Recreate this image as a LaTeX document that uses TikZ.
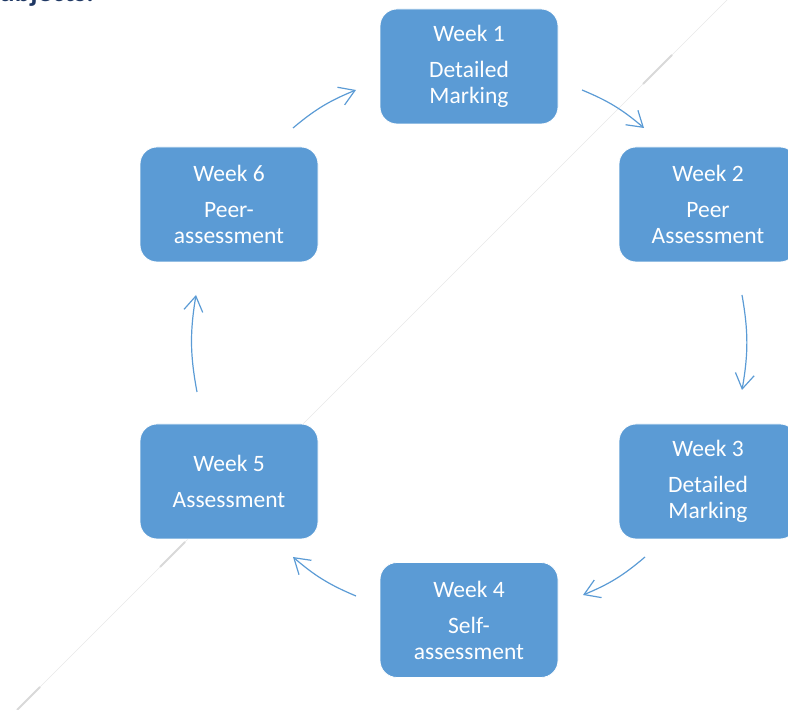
\documentclass[tikz,border=0pt]{standalone}
\usepackage{fontspec}
\setmainfont{Carlito}
\usetikzlibrary{arrows.meta}
\definecolor{boxblue}{HTML}{5B9BD5}
\definecolor{headblue}{HTML}{1F3864}
\begin{document}
\begin{tikzpicture}[x=1pt,y=1pt,
  weekbox/.style={fill=boxblue, draw=white, line width=0.8pt, rounded corners=17pt,
    minimum width=178pt, minimum height=115pt, text=white, align=center,
    font=\fontsize{23.5}{26}\selectfont, inner sep=0pt},
  cyc/.style={draw=boxblue, line width=1.2pt,
    -{Straight Barb[length=15pt,width=19pt,line width=1.2pt]}},
  decothin/.style={draw=black!9, line width=0.7pt},
  decothick/.style={draw=black!15, line width=2pt}]
\useasboundingbox (0,0) rectangle (788,710);
\clip (0,0) rectangle (788,710);

% faint diagonal line
\coordinate (d1) at (17,0);
\coordinate (d2) at (727,710);
\draw[decothin] (d1) -- (d2);
\coordinate (t1a) at (643,626);
\coordinate (t1b) at (672,655);
\coordinate (t2a) at (160,143);
\coordinate (t2b) at (185,168);
\coordinate (t3a) at (17,0);
\coordinate (t3b) at (40,23);
\draw[decothick] (t1a) -- (t1b);
\draw[decothick] (t2a) -- (t2b);
\draw[decothick] (t3a) -- (t3b);

% heading (cut off at top)
\node[anchor=base west, inner sep=0pt, text=headblue,
  font=\fontsize{29}{34}\selectfont\bfseries] (head) at (-1,708.5) {ubjects:};

% boxes
\node[weekbox] (w1) at (469,643.5) {Week 1\\[10pt]Detailed\\Marking};
\node[weekbox] (w2) at (708,505.5) {Week 2\\[10pt]Peer\\Assessment};
\node[weekbox] (w3) at (708,228.5) {Week 3\\[10pt]Detailed\\Marking};
\node[weekbox] (w4) at (469,90) {Week 4\\[10pt]Self-\\assessment};
\node[weekbox] (w5) at (229,228.5) {Week 5\\[10pt]Assessment};
\node[weekbox] (w6) at (229,505.5) {Week 6\\[10pt]Peer-\\assessment};

% arrow end points
\coordinate (a12s) at (582,620);
\coordinate (a12e) at (644,582);
\coordinate (a23s) at (742,415);
\coordinate (a23e) at (742,320);
\coordinate (a34s) at (645,153);
\coordinate (a34e) at (583,115);
\coordinate (a45s) at (356,114);
\coordinate (a45e) at (293,153);
\coordinate (a56s) at (197,318);
\coordinate (a56e) at (196,415);
\coordinate (a61s) at (293,582);
\coordinate (a61e) at (356,620);

\draw[cyc] (a12s) to[bend left=9] (a12e);
\draw[cyc] (a23s) to[bend left=10] (a23e);
\draw[cyc] (a34s) to[bend left=9] (a34e);
\draw[cyc] (a45s) to[bend left=9] (a45e);
\draw[cyc] (a56s) to[bend left=10] (a56e);
\draw[cyc] (a61s) to[bend left=9] (a61e);
\end{tikzpicture}
\end{document}
